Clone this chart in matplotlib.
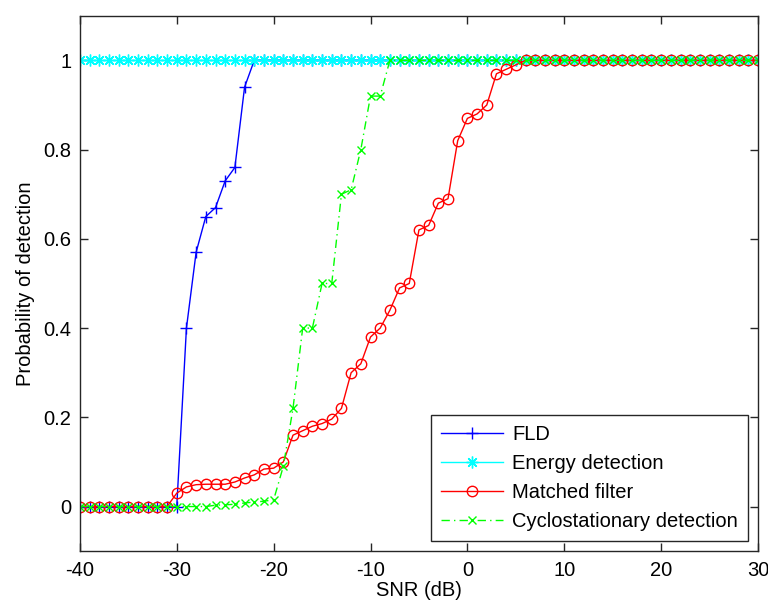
# plot_detection_vs_snr.py
"""
Probability of detection vs SNR for four spectrum sensing methods
(FLD, energy detection, matched filter, cyclostationary detection).
MATLAB-style figure, saved as out.png.
"""
import matplotlib
matplotlib.use('Agg')
import matplotlib.pyplot as plt

# ── Data (one value per dB, -40 ... 30) ───────────────────────────────────────
SNR_DB = list(range(-40, 31))

PD_FLD = [
    0, 0, 0, 0, 0, 0, 0, 0, 0, 0,                # -40 .. -31
    0, 0.40, 0.57, 0.65, 0.67, 0.73, 0.76, 0.94,  # -30 .. -23
    1, 1, 1, 1, 1, 1, 1, 1, 1, 1,                # -22 .. -13
    1, 1, 1, 1, 1, 1, 1, 1, 1, 1,                # -12 .. -3
    1, 1, 1, 1, 1, 1, 1, 1, 1, 1,                # -2 .. 7
    1, 1, 1, 1, 1, 1, 1, 1, 1, 1,                # 8 .. 17
    1, 1, 1, 1, 1, 1, 1, 1, 1, 1,                # 18 .. 27
    1, 1, 1,                                     # 28 .. 30
]

PD_ENERGY = [
    1, 1, 1, 1, 1, 1, 1, 1, 1, 1,
    1, 1, 1, 1, 1, 1, 1, 1, 1, 1,
    1, 1, 1, 1, 1, 1, 1, 1, 1, 1,
    1, 1, 1, 1, 1, 1, 1, 1, 1, 1,
    1, 1, 1, 1, 1, 1, 1, 1, 1, 1,
    1, 1, 1, 1, 1, 1, 1, 1, 1, 1,
    1, 1, 1, 1, 1, 1, 1, 1, 1, 1,
    1,
]

PD_MATCHED = [
    0, 0, 0, 0, 0, 0, 0, 0, 0, 0,                               # -40 .. -31
    0.03, 0.044, 0.049, 0.05, 0.05, 0.05, 0.055, 0.064, 0.071, 0.084,  # -30 .. -21
    0.086, 0.10, 0.16, 0.17, 0.18, 0.186, 0.196, 0.22, 0.30, 0.32,     # -20 .. -11
    0.38, 0.40, 0.44, 0.49, 0.50, 0.62, 0.63, 0.68, 0.69, 0.82,        # -10 .. -1
    0.87, 0.88, 0.90, 0.97, 0.98, 0.99,                                # 0 .. 5
    1, 1, 1, 1, 1, 1, 1, 1, 1, 1,                               # 6 .. 15
    1, 1, 1, 1, 1, 1, 1, 1, 1, 1,                               # 16 .. 25
    1, 1, 1, 1, 1,                                              # 26 .. 30
]

PD_CYCLO = [
    0, 0, 0, 0, 0, 0, 0, 0, 0, 0,                               # -40 .. -31
    0, 0, 0, 0, 0.003, 0.004, 0.005, 0.008, 0.01, 0.012,        # -30 .. -21
    0.015, 0.09, 0.22, 0.40, 0.40, 0.50, 0.50, 0.70, 0.71, 0.80,  # -20 .. -11
    0.92, 0.92,                                                 # -10 .. -9
    1, 1, 1, 1, 1, 1, 1, 1, 1, 1,                               # -8 .. 1
    1, 1, 1, 1, 1, 1, 1, 1, 1, 1,                               # 2 .. 11
    1, 1, 1, 1, 1, 1, 1, 1, 1, 1,                               # 12 .. 21
    1, 1, 1, 1, 1, 1, 1, 1, 1,                                  # 22 .. 30
]

X_TICKS = [-40, -30, -20, -10, 0, 10, 20, 30]
Y_TICKS = [0, 0.2, 0.4, 0.6, 0.8, 1]
Y_TICK_LABELS = ['0', '0.2', '0.4', '0.6', '0.8', '1']

# ── Style ─────────────────────────────────────────────────────────────────────
plt.rcParams['font.family'] = ['Liberation Sans', 'DejaVu Sans']
FS = 14.5
AX_COLOR = '#262626'

# ── Plot ──────────────────────────────────────────────────────────────────────
fig = plt.figure(figsize=(7.68, 6.07), dpi=100)
ax = fig.add_axes([0.104, 0.092, 0.883, 0.882])

ax.plot(SNR_DB, PD_FLD, color=(0, 0, 1), lw=1.0, marker='+', ms=9,
        mew=1.0, label='FLD')
ax.plot(SNR_DB, PD_ENERGY, color=(0, 1, 1), lw=1.0, marker=(8, 2, 0), ms=8.5,
        mew=1.0, label='Energy detection')
ax.plot(SNR_DB, PD_MATCHED, color=(1, 0, 0), lw=1.0, marker='o', ms=7.5,
        mfc='none', mew=1.0, label='Matched filter')
ax.plot(SNR_DB, PD_CYCLO, color=(0, 1, 0), lw=1.0, ls=(0, (6, 3, 1, 3)),
        marker='x', ms=5.5, mew=1.0, label='Cyclostationary detection')

ax.set_xlim(-40, 30)
ax.set_ylim(-0.1, 1.1)
ax.set_xticks(X_TICKS)
ax.set_xticklabels([str(t) for t in X_TICKS])
ax.set_yticks(Y_TICKS)
ax.set_yticklabels(Y_TICK_LABELS)

ax.tick_params(direction='in', length=5.5, width=1.0, color=AX_COLOR,
               labelsize=FS, top=True, right=True, pad=6)
ax.tick_params(axis='x', pad=7)
for sp in ax.spines.values():
    sp.set_color(AX_COLOR)
    sp.set_linewidth(1.0)

ax.set_xlabel('SNR (dB)', fontsize=FS, labelpad=1)
ax.set_ylabel('Probability of detection', fontsize=FS, labelpad=6)

leg = ax.legend(loc='lower right', fontsize=FS, numpoints=1,
                handlelength=3.1, handletextpad=0.45, labelspacing=0.5,
                borderpad=0.5, borderaxespad=0.5, fancybox=False,
                framealpha=1, edgecolor=AX_COLOR)
leg.get_frame().set_linewidth(1.0)

plt.savefig('out.png', dpi=100)
plt.close()
